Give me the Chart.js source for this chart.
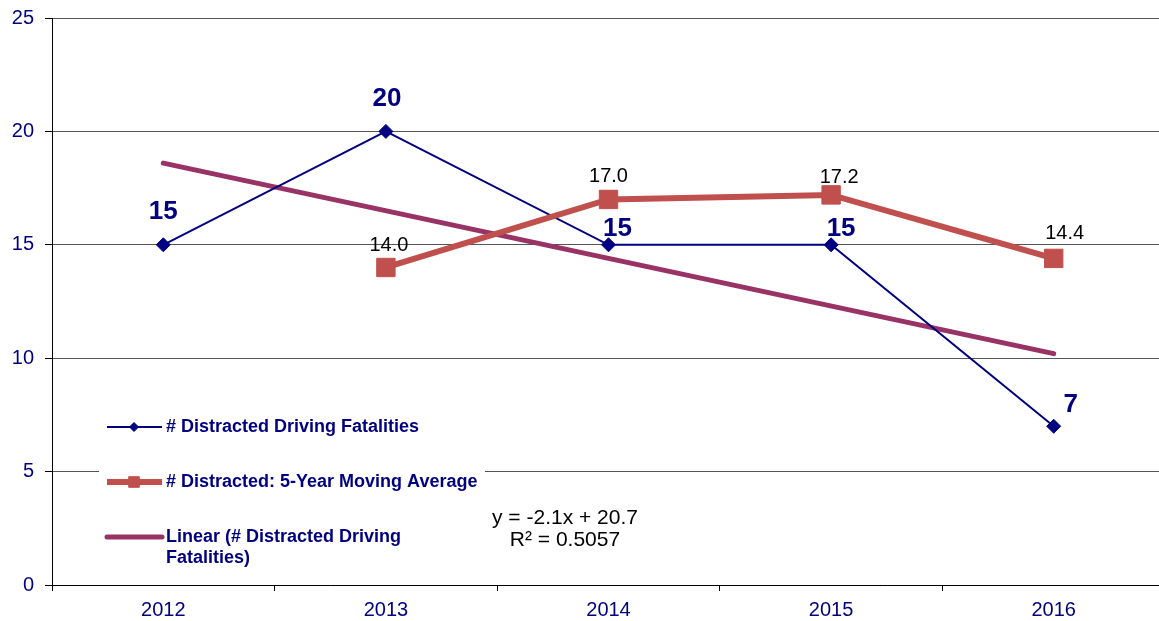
<!DOCTYPE html>
<html><head><meta charset="utf-8">
<script src="https://cdn.jsdelivr.net/npm/chart.js@4.4.1/dist/chart.umd.min.js"></script>
<style>
html,body{margin:0;padding:0;overflow:hidden;background:#fff;width:1159px;height:621px}
#wrap{width:1165px;height:621px;position:relative}
canvas{display:block}
</style></head>
<body><div id="wrap"><canvas id="c" width="1165" height="621"></canvas></div>
<script>
const years = ['2012', '2013', '2014', '2015', '2016'];
const fatalities = [15, 20, 15, 15, 7];
const movingAvg = [null, 14.0, 17.0, 17.2, 14.4];
const trendLine = [18.6, null, null, null, 10.2];
const yTicks = [0, 5, 10, 15, 20, 25];
const seriesNames = [
  '# Distracted Driving Fatalities',
  '# Distracted: 5-Year Moving Average',
  'Linear (# Distracted Driving\nFatalities)'
];
const equationLines = ['y = -2.1x + 20.7', 'R² = 0.5057'];

const NAVY = '#000080';
const ORANGE = '#C0504D';
const PURPLE = '#993366';
const FONT = '"Liberation Sans", Arial, sans-serif';

const pointLabels = {
  id: 'pointLabels',
  afterDatasetsDraw(chart) {
    const ctx = chart.ctx;
    chart.data.datasets.forEach((ds, i) => {
      const cfg = ds.pointLabels;
      if (!cfg) return;
      const meta = chart.getDatasetMeta(i);
      meta.data.forEach((pt, j) => {
        const v = ds.data[j];
        if (v == null) return;
        const off = cfg.offsets[j];
        ctx.save();
        ctx.font = cfg.font;
        ctx.fillStyle = cfg.color;
        ctx.textAlign = 'center';
        ctx.textBaseline = 'middle';
        ctx.fillText(cfg.format(v), pt.x + off[0], pt.y + off[1]);
        ctx.restore();
      });
    });
  }
};

const insideLegend = {
  id: 'insideLegend',
  beforeDatasetsDraw(chart, args, opts) {
    const ctx = chart.ctx;
    ctx.save();
    ctx.fillStyle = '#fff';
    ctx.fillRect(opts.box[0], opts.box[1], opts.box[2], opts.box[3]);
    chart.data.datasets.forEach((ds, i) => {
      const y = opts.rows[i];
      ctx.save();
      ctx.strokeStyle = ds.borderColor;
      ctx.lineWidth = ds.borderWidth;
      ctx.lineCap = ds.borderCapStyle || 'butt';
      ctx.beginPath();
      ctx.moveTo(opts.lineX[0], y);
      ctx.lineTo(opts.lineX[1], y);
      ctx.stroke();
      if (ds.pointRadius > 0) {
        ctx.fillStyle = ds.pointBackgroundColor;
        ctx.strokeStyle = ds.pointBorderColor;
        ctx.lineWidth = 1;
        Chart.helpers.drawPoint(ctx, {
          pointStyle: ds.pointStyle,
          rotation: 0,
          radius: opts.markerR[i],
          borderWidth: 1
        }, opts.markerX, y);
      }
      ctx.restore();
      ctx.fillStyle = NAVY;
      ctx.font = opts.font;
      ctx.textAlign = 'left';
      ctx.textBaseline = 'middle';
      ds.label.split('\n').forEach((line, k) => {
        ctx.fillText(line, opts.textX, y + k * opts.lineGap);
      });
    });
    ctx.restore();
  }
};

const equation = {
  id: 'equation',
  afterDatasetsDraw(chart, args, opts) {
    const ctx = chart.ctx;
    ctx.save();
    ctx.fillStyle = '#000';
    ctx.font = opts.font;
    ctx.textAlign = 'center';
    ctx.textBaseline = 'middle';
    equationLines.forEach((line, k) => {
      ctx.fillText(line, opts.x, opts.y + k * opts.lineGap);
    });
    ctx.restore();
  }
};

function noPad(scale) {
  scale.paddingLeft = 0;
  scale.paddingRight = 0;
  scale.paddingTop = 0;
  scale.paddingBottom = 0;
}

new Chart(document.getElementById('c'), {
  type: 'line',
  data: {
    labels: years,
    datasets: [
      {
        label: seriesNames[0],
        data: fatalities,
        borderColor: NAVY,
        borderWidth: 2,
        pointStyle: 'rectRot',
        pointRadius: 7,
        pointBackgroundColor: NAVY,
        pointBorderColor: NAVY,
        pointBorderWidth: 1,
        tension: 0,
        order: 1,
        pointLabels: {
          font: 'bold 26px ' + FONT,
          color: NAVY,
          format: v => String(v),
          offsets: [[0, -33], [1, -33], [9, -16], [10, -16], [17, -21]]
        }
      },
      {
        label: seriesNames[1],
        data: movingAvg,
        borderColor: ORANGE,
        borderWidth: 6,
        pointStyle: 'rect',
        pointRadius: 13,
        pointBackgroundColor: ORANGE,
        pointBorderColor: ORANGE,
        pointBorderWidth: 1,
        tension: 0,
        order: 0,
        pointLabels: {
          font: '20px ' + FONT,
          color: '#000',
          format: v => v.toFixed(1),
          offsets: [[0, 0], [3, -22], [0, -23], [8, -17], [11, -25]]
        }
      },
      {
        label: seriesNames[2],
        data: trendLine,
        borderColor: PURPLE,
        borderWidth: 5,
        borderCapStyle: 'round',
        pointRadius: 0,
        spanGaps: true,
        tension: 0,
        order: 2
      }
    ]
  },
  options: {
    responsive: false,
    animation: false,
    events: [],
    layout: { autoPadding: false, padding: { top: 18, left: 0, right: 0, bottom: 0 } },
    plugins: {
      legend: { display: false },
      tooltip: { enabled: false },
      insideLegend: {
        box: [99, 405, 386, 167],
        rows: [427, 482, 537],
        lineX: [107, 162],
        markerX: 134,
        markerR: [4.5, 7.5, 0],
        textX: 166,
        lineGap: 21,
        font: 'bold 18px ' + FONT
      },
      equation: { x: 565, y: 518, lineGap: 22, font: '21px ' + FONT }
    },
    scales: {
      x: {
        type: 'category',
        offset: true,
        grid: {
          offset: true,
          drawOnChartArea: false,
          drawTicks: true,
          tickLength: 6,
          tickColor: '#000'
        },
        border: { display: true, color: '#000', width: 1 },
        ticks: { color: NAVY, font: { family: FONT, size: 20 }, padding: 7, maxRotation: 0 },
        afterFit(scale) { scale.height = 36; noPad(scale); }
      },
      y: {
        min: 0,
        max: 25,
        afterBuildTicks(scale) { scale.ticks = yTicks.map(v => ({ value: v })); },
        grid: {
          color: '#555',
          lineWidth: 1,
          drawTicks: true,
          tickLength: 7,
          tickColor: '#000'
        },
        border: { display: true, color: '#000', width: 1 },
        ticks: { color: NAVY, font: { family: FONT, size: 20 }, padding: 11 },
        afterFit(scale) { scale.width = 52; noPad(scale); }
      }
    }
  },
  plugins: [insideLegend, pointLabels, equation]
});
</script>
</body></html>
